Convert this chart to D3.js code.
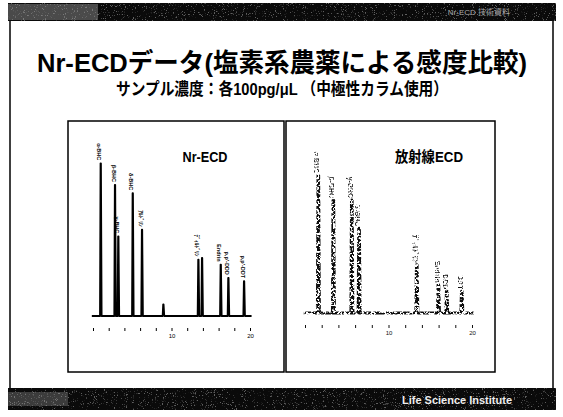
<!DOCTYPE html>
<html><head><meta charset="utf-8">
<script src="https://cdn.jsdelivr.net/npm/d3@7"></script>
<style>
body{margin:0;background:#fff}
svg{display:block}
</style></head>
<body>
<svg id="c" width="563" height="417"></svg>
<script>
// Nr-ECD chromatogram: retention time (min), peak response, peak names
const nrTimes   = [0.98, 2.8, 3.22, 5.06, 6.24, 8.96, 13.42, 13.89, 16.27, 17.24, 19.24];
const nrHeights = [92, 79, 48, 74, 52, 7, 34, 35, 31, 23, 21];
const nrLabels  = ["α-BHC", "β-BHC", "γ-BHC", "δ-BHC", "ｱﾙﾄﾞﾘﾝ", "", "ﾃﾞｨﾙﾄﾞﾘﾝ", "", "Endrin", "p,p'-DDD", "p,p'-DDT"];

// Radioactive-source ECD chromatogram
const raTimes   = [1.59, 3.39, 5.6, 6.47, 13.38, 15.97, 16.97, 18.77];
const raHeights = [83, 68, 68, 51, 29, 17, 13, 13];
const raLabels  = ["α-BHC", "β-BHC", "γ-BHC", "δ-BHC", "ﾃﾞｨﾙﾄﾞﾘﾝ", "Endrin", "DDD", "DDT"];

// time axis ticks
const timeTicks = [0, 2, 4, 6, 8, 10, 12, 14, 16, 18, 20];

const svg = d3.select("#c");
const JP = "'Liberation Sans','Noto Sans CJK JP',sans-serif";

// ---- filters: speckled scan texture ----
const defs = svg.append("defs");
const sp = defs.append("filter").attr("id","speck").attr("x",0).attr("y",0).attr("width","100%").attr("height","100%");
sp.append("feTurbulence").attr("type","fractalNoise").attr("baseFrequency","0.9").attr("numOctaves",2).attr("seed",4).attr("result","n");
sp.append("feColorMatrix").attr("in","n").attr("type","matrix")
  .attr("values","0 0 0 0 1  0 0 0 0 1  0 0 0 0 1  9 0 0 0 -5.6");
const gr = defs.append("filter").attr("id","grain").attr("x","-20%").attr("y","-5%").attr("width","140%").attr("height","110%");
gr.append("feTurbulence").attr("type","fractalNoise").attr("baseFrequency","0.45").attr("numOctaves",2).attr("seed",7).attr("result","n");
gr.append("feColorMatrix").attr("in","n").attr("type","matrix")
  .attr("values","0 0 0 0 0  0 0 0 0 0  0 0 0 0 0  12 0 0 0 -5.1").attr("result","m");
gr.append("feComposite").attr("in","SourceGraphic").attr("in2","m").attr("operator","in");

// ---- slide frame ----
svg.append("rect").attr("x",0).attr("y",0).attr("width",563).attr("height",417).attr("fill","#fff");
svg.append("line").attr("x1",10).attr("x2",10).attr("y1",20).attr("y2",390).attr("stroke","#000").attr("stroke-width",1.5);
svg.append("line").attr("x1",553).attr("x2",553).attr("y1",20).attr("y2",390).attr("stroke","#000").attr("stroke-width",1.5);

// header and footer bands
function band(y, h) {
  svg.append("rect").attr("x",8).attr("y",y).attr("width",548).attr("height",h).attr("fill","#0a0a0a");
  svg.append("rect").attr("x",8).attr("y",y).attr("width",548).attr("height",h).attr("fill","#fff")
    .attr("filter","url(#speck)").attr("opacity",0.35);
}
band(3, 18);
band(388, 22);
svg.append("rect").attr("x",8).attr("y",4).attr("width",90).attr("height",16).attr("fill","#999").attr("opacity",0.45);
svg.append("rect").attr("x",8).attr("y",392).attr("width",60).attr("height",14).attr("fill","#999").attr("opacity",0.35);
svg.append("text").attr("x",510).attr("y",15).attr("text-anchor","end").attr("fill","#aaa")
  .attr("font-family",JP).attr("font-size",8).text("Nr-ECD  技術資料");
svg.append("text").attr("x",512).attr("y",404).attr("text-anchor","end").attr("fill","#eee")
  .attr("font-family",JP).attr("font-weight","bold").attr("font-size",11).text("Life Science Institute");

// ---- titles ----
svg.append("text").attr("x",282).attr("y",72).attr("text-anchor","middle")
  .attr("font-family",JP).attr("font-weight","bold").attr("font-size",26)
  .attr("textLength",490).attr("lengthAdjust","spacingAndGlyphs")
  .text("Nr-ECDデータ(塩素系農薬による感度比較)");
svg.append("text").attr("x",282).attr("y",95).attr("text-anchor","middle")
  .attr("font-family",JP).attr("font-weight","bold").attr("font-size",17)
  .attr("textLength",332).attr("lengthAdjust","spacingAndGlyphs")
  .text("サンプル濃度：各100pg/μL （中極性カラム使用）");

// ---- panels ----
svg.append("rect").attr("x",68).attr("y",121).attr("width",216).attr("height",251)
  .attr("fill","none").attr("stroke","#000").attr("stroke-width",1.5);
svg.append("rect").attr("x",286).attr("y",121).attr("width",209).attr("height",251)
  .attr("fill","none").attr("stroke","#000").attr("stroke-width",1.5);

function chrom(opt) {
  const x = d3.scaleLinear().domain([0, 20]).range(opt.xr);
  const y = d3.scaleLinear().domain([0, 100]).range([opt.base, opt.base - 166]);
  const pts = [[-0.15, 0]];
  opt.t.forEach((t, i) => {
    pts.push([t - 0.09, 0], [t - 0.02, opt.h[i]], [t + 0.03, opt.h[i]], [t + 0.12, 0]);
  });
  pts.push([20.2, 0]);
  const line = d3.line().x(d => x(d[0])).y(d => y(d[1]));
  const g = svg.append("g");
  if (opt.grainy) g.attr("filter","url(#grain)");
  g.append("path").attr("d", line(pts)).attr("fill","none")
    .attr("stroke", opt.color).attr("stroke-width", opt.sw).attr("stroke-linejoin","round");
  // peak names, set vertically above each peak
  g.selectAll("text.lab").data(opt.t).join("text")
    .attr("transform", (t, i) => `translate(${x(t) - 2},${y(opt.h[i]) - opt.gap}) rotate(90)`)
    .attr("text-anchor","end").attr("dominant-baseline","middle")
    .attr("font-family",JP).attr("font-size",opt.fs).attr("fill",opt.color)
    .attr("font-weight","bold")
    .text((t, i) => opt.labels[i]);
  // time axis
  const ax = svg.append("g").attr("transform",`translate(0,${opt.base + 12})`)
    .call(d3.axisBottom(x).tickValues(timeTicks).tickSize(3).tickFormat(d => d % 5 === 0 && d > 0 ? d : ""));
  ax.select(".domain").remove();
  ax.selectAll("line").attr("stroke", opt.color);
  ax.selectAll("text").attr("font-size",6).attr("fill",opt.color).attr("font-family",JP);
  return g;
}

chrom({xr:[93, 250], base:316, t:nrTimes, h:nrHeights, labels:nrLabels,
       color:"#000", sw:1.8, fs:5.5, gap:3, grainy:false});
chrom({xr:[305, 472], base:313, t:raTimes, h:raHeights, labels:raLabels,
       color:"#111", sw:3.2, fs:7, gap:2, grainy:true});

svg.append("text").attr("x",205).attr("y",162).attr("text-anchor","middle")
  .attr("font-family",JP).attr("font-weight","bold").attr("font-size",15)
  .attr("textLength",45).attr("lengthAdjust","spacingAndGlyphs").text("Nr-ECD");
svg.append("text").attr("x",429).attr("y",162).attr("text-anchor","middle")
  .attr("font-family",JP).attr("font-weight","bold").attr("font-size",15)
  .attr("textLength",68).attr("lengthAdjust","spacingAndGlyphs").text("放射線ECD");
</script>
</body></html>
